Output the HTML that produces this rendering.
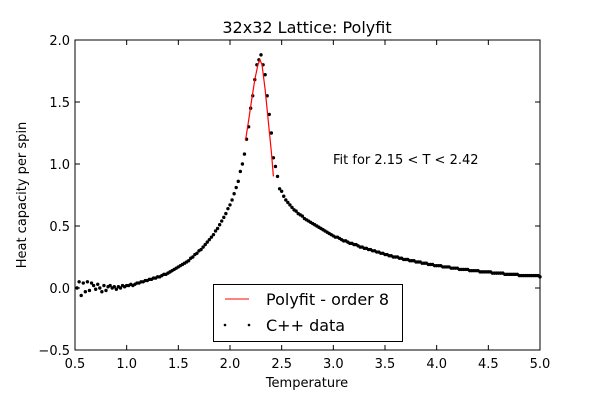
<!DOCTYPE html>
<html><head><meta charset="utf-8">
<style>
body{margin:0;background:#fff;}
svg{display:block;font-family:"DejaVu Sans","Liberation Sans",sans-serif;}
</style></head>
<body>
<svg id="chart" width="600" height="400">
<rect width="600" height="400" fill="#fff"/>
<text x="307" y="33" font-size="16" text-anchor="middle">32x32 Lattice: Polyfit</text>
<text x="307" y="387" font-size="13" text-anchor="middle">Temperature</text>
<text transform="translate(26,195) rotate(-90)" font-size="13" text-anchor="middle">Heat capacity per spin</text>
<g id="ticks"></g>
<g id="marks"></g>
<rect x="75" y="40" width="465" height="310" fill="none" stroke="#000" stroke-width="1"/>
<text x="333" y="164" font-size="13">Fit for 2.15 &lt; T &lt; 2.42</text>
<g>
<rect x="213.5" y="284.5" width="189" height="57" fill="#fff" stroke="#000"/>
<line x1="225" y1="299" x2="249" y2="299" stroke="red"/>
<text x="266" y="305" font-size="16">Polyfit - order 8</text>
<circle cx="225" cy="325" r="1.3" fill="#000"/>
<circle cx="249" cy="325" r="1.3" fill="#000"/>
<text x="266" y="331" font-size="16">C++ data</text>
</g>
</svg>
<script>
const xTicks=[0.5,1.0,1.5,2.0,2.5,3.0,3.5,4.0,4.5,5.0];
const yTicks=[-0.5,0.0,0.5,1.0,1.5,2.0];
const dataT0=0.52, dataStep=0.02;
const dataC=[0.0,0.05,-0.06,0.04,-0.03,0.05,-0.02,0.04,0.02,-0.01,
0.03,0.0,-0.03,0.02,-0.02,0.01,0.02,0.0,0.01,-0.01,
0.01,0.0,0.02,0.01,0.02,0.02,0.03,0.02,0.03,0.04,
0.04,0.05,0.05,0.06,0.06,0.07,0.07,0.08,0.08,0.09,
0.09,0.10,0.11,0.11,0.12,0.13,0.14,0.15,0.16,0.17,
0.18,0.19,0.20,0.21,0.22,0.24,0.25,0.27,0.28,0.30,
0.31,0.33,0.35,0.37,0.39,0.41,0.43,0.46,0.48,0.51,
0.54,0.57,0.60,0.64,0.67,0.71,0.76,0.81,0.86,0.94,
1.00,1.08,1.20,1.30,1.45,1.55,1.68,1.80,1.84,1.88,
1.80,1.72,1.55,1.40,1.25,1.05,0.98,0.90,0.80,0.78,
0.74,0.71,0.69,0.67,0.65,0.63,0.62,0.60,0.59,0.58,
0.56,0.55,0.54,0.53,0.52,0.51,0.50,0.49,0.48,0.47,
0.46,0.45,0.44,0.43,0.42,0.41,0.41,0.40,0.39,0.38,
0.38,0.37,0.36,0.36,0.35,0.35,0.34,0.33,0.33,0.32,
0.32,0.31,0.31,0.30,0.30,0.29,0.29,0.28,0.28,0.27,
0.27,0.26,0.26,0.25,0.25,0.25,0.24,0.24,0.23,0.23,
0.23,0.22,0.22,0.22,0.21,0.21,0.21,0.20,0.20,0.20,
0.19,0.19,0.19,0.18,0.18,0.18,0.18,0.17,0.17,0.17,
0.17,0.16,0.16,0.16,0.16,0.15,0.15,0.15,0.15,0.15,
0.14,0.14,0.14,0.14,0.14,0.13,0.13,0.13,0.13,0.13,
0.13,0.12,0.12,0.12,0.12,0.12,0.12,0.11,0.11,0.11,
0.11,0.11,0.11,0.11,0.10,0.10,0.10,0.10,0.10,0.10,
0.10,0.10,0.10,0.10,0.09];
const fitT=[2.15,2.18,2.21,2.24,2.27,2.29,2.31,2.34,2.37,2.40,2.42];
const fitC=[1.19,1.35,1.52,1.68,1.80,1.84,1.80,1.60,1.35,1.10,0.90];

const NS="http://www.w3.org/2000/svg";
const X=t=>75+(t-0.5)*465/4.5;
const Y=v=>40+(2-v)*310/2.5;
function mk(tag,attrs,parent){const e=document.createElementNS(NS,tag);for(const k in attrs)e.setAttribute(k,attrs[k]);parent.appendChild(e);return e;}
const tk=document.getElementById('ticks'), mg=document.getElementById('marks');
xTicks.forEach(t=>{
  const x=X(t);
  const a=mk('line',{x1:x,y1:350,x2:x,y2:345,stroke:'#000'},tk);
  
  
  const b=mk('line',{x1:x,y1:40,x2:x,y2:45,stroke:'#000'},tk);
  
  
  const l=mk('text',{x:x,y:368,'font-size':13,'text-anchor':'middle'},tk);
  l.textContent=t.toFixed(1);
  
  
});
yTicks.forEach(v=>{
  const y=Y(v);
  const a=mk('line',{x1:75,y1:y,x2:80,y2:y,stroke:'#000'},tk);
  
  
  const b=mk('line',{x1:540,y1:y,x2:535,y2:y,stroke:'#000'},tk);
  
  
  const l=mk('text',{x:70,y:y+5,'font-size':13,'text-anchor':'end'},tk);
  l.textContent=v.toFixed(1).replace('-','\u2212');
  
  
});
dataC.forEach((c,i)=>{
  const t=dataT0+i*dataStep;
  const p=mk('circle',{cx:X(t),cy:Y(c),r:1.7,fill:'#000'},mg);
  
  
});
const fl=mk('polyline',{points:fitT.map((t,i)=>X(t)+','+Y(fitC[i])).join(' '),fill:'none',stroke:'red','stroke-width':1.2},mg);


</script>
</body></html>
